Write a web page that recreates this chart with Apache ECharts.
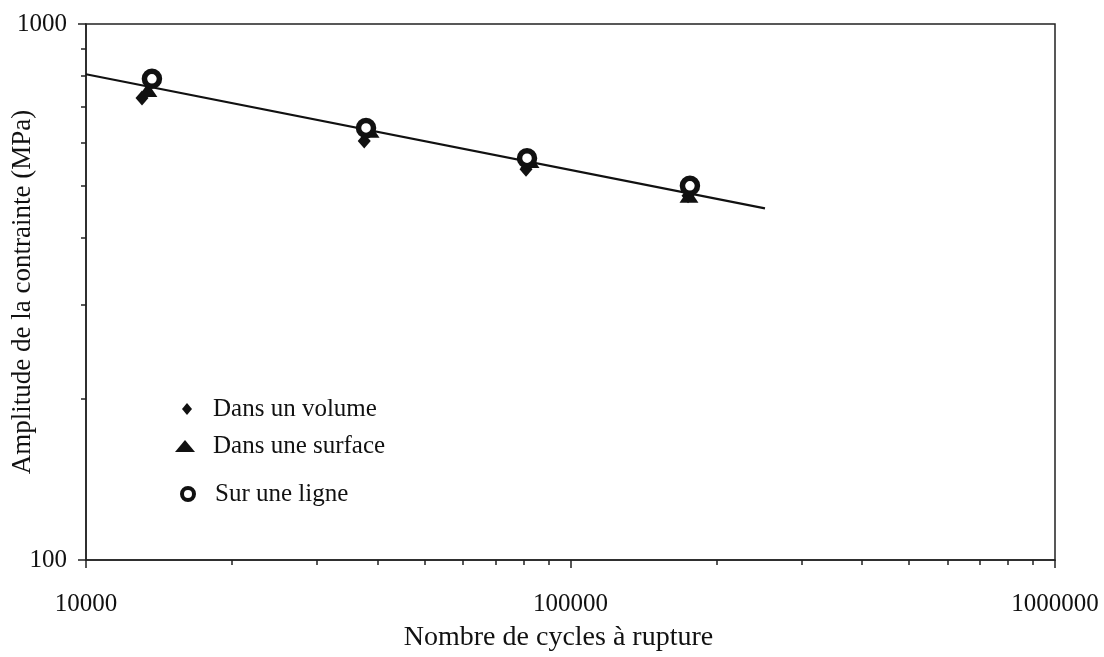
<!DOCTYPE html>
<html>
<head>
<meta charset="utf-8">
<script src="https://cdn.jsdelivr.net/npm/echarts@6/dist/echarts.min.js"></script>
<style>html,body{margin:0;padding:0;background:#fff}#c{width:1104px;height:657px}</style>
</head>
<body>
<div id="c"></div>
<script>
const seriesNames = ['Dans un volume', 'Dans une surface', 'Sur une ligne'];
const volumeData = [[13050, 728], [37520, 605], [80950, 536], [174800, 478]];
const surfaceData = [[13420, 753], [38570, 632], [82490, 555], [175600, 478]];
const ligneData = [[13680, 790], [37840, 640], [81330, 562], [176400, 499]];
const fitLine = [[10000, 806], [252000, 453]];
const xRange = [10000, 1000000];
const yRange = [100, 1000];
const xTitle = 'Nombre de cycles à rupture';
const yTitle = 'Amplitude de la contrainte (MPa)';

const FONT = 'Liberation Serif';
const INK = '#111';
const chart = echarts.init(document.getElementById('c'));
function legendItem(item, left, top, w, h, pad) {
  return {
    data: [item], orient: 'vertical', left: left, top: top, padding: 0,
    itemWidth: w, itemHeight: h,
    textStyle: {fontFamily: FONT, fontSize: 25, color: INK, lineHeight: 26, padding: [0, 0, 0, pad]}
  };
}
chart.setOption({
  animation: false,
  backgroundColor: '#fff',
  grid: {left: 86, right: 49, top: 24, bottom: 97, outerBoundsMode: 'none', containLabel: false,
         show: true, borderColor: '#222', borderWidth: 1.5},
  legend: [
    legendItem({name: seriesNames[0]}, 182, 396, 10, 12, 16),
    legendItem({name: seriesNames[1]}, 175, 433, 20, 12, 13),
    legendItem({name: seriesNames[2], itemStyle: {color: '#fff', borderColor: INK, borderWidth: 4}}, 180, 481, 12, 12, 16)
  ],
  xAxis: {
    type: 'log', logBase: 10, min: xRange[0], max: xRange[1],
    name: xTitle, nameLocation: 'middle', nameGap: 64, nameMoveOverlap: false,
    nameTextStyle: {fontFamily: FONT, fontSize: 28, color: INK, padding: [0, 24, 0, 0]},
    axisLine: {lineStyle: {color: '#222', width: 1.5}},
    axisTick: {length: 8, lineStyle: {color: '#222', width: 1.5}},
    minorTick: {show: true, splitNumber: 9, length: 5, lineStyle: {color: '#222', width: 1.5}},
    splitLine: {show: false}, minorSplitLine: {show: false},
    axisLabel: {fontFamily: FONT, fontSize: 25, color: INK, margin: 32, formatter: v => String(Math.round(v))}
  },
  yAxis: {
    type: 'log', logBase: 10, min: yRange[0], max: yRange[1],
    name: yTitle, nameLocation: 'middle', nameGap: 50, nameRotate: 90, nameMoveOverlap: false,
    nameTextStyle: {fontFamily: FONT, fontSize: 27, color: INK},
    axisLine: {lineStyle: {color: '#222', width: 1.5}},
    axisTick: {length: 8, lineStyle: {color: '#222', width: 1.5}},
    minorTick: {show: true, splitNumber: 9, length: 5, lineStyle: {color: '#222', width: 1.5}},
    splitLine: {show: false}, minorSplitLine: {show: false},
    axisLabel: {fontFamily: FONT, fontSize: 25, color: INK, margin: 19, formatter: v => String(Math.round(v))}
  },
  series: [
    {name: 'fit', type: 'line', data: fitLine, showSymbol: false, symbol: 'none',
     lineStyle: {color: INK, width: 2.2}, z: 1, silent: true},
    {name: seriesNames[0], type: 'scatter', data: volumeData, symbol: 'diamond',
     symbolSize: [13, 15], itemStyle: {color: INK, opacity: 1}, z: 2},
    {name: seriesNames[1], type: 'scatter', data: surfaceData, symbol: 'triangle',
     symbolSize: [19, 14], itemStyle: {color: INK, opacity: 1}, z: 3},
    {name: seriesNames[2], type: 'scatter', data: ligneData, symbol: 'circle',
     symbolSize: 15, itemStyle: {color: '#fff', borderColor: INK, borderWidth: 5.5, opacity: 1}, z: 4}
  ]
});
</script>
</body>
</html>
